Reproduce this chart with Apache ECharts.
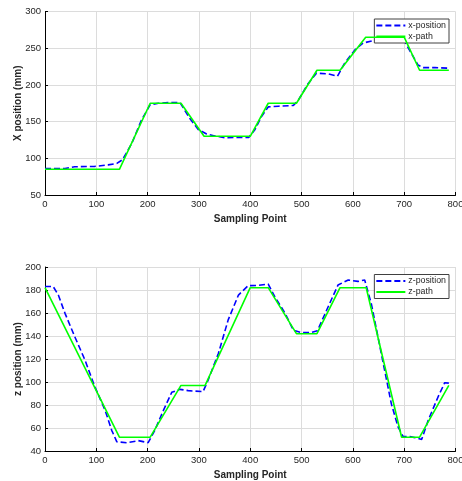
<!DOCTYPE html>
<html>
<head>
<meta charset="utf-8">
<script src="https://cdn.jsdelivr.net/npm/echarts@6/dist/echarts.min.js"></script>
<style>html,body{margin:0;padding:0;background:#fff;}#c{width:462px;height:481px;}</style>
</head>
<body>
<div id="c"></div>
<script>
// ---- data ----
var xTicks = [0, 100, 200, 300, 400, 500, 600, 700, 800];

var xPathS = [0, 145, 205, 265, 310, 400, 435, 490, 530, 575, 625, 700, 730, 787];
var xPathV = [85, 85, 175, 175, 130, 130, 175, 175, 220, 220, 265, 265, 220, 220];

var xPosS = [0, 39, 58, 97, 123, 140, 151, 169, 188, 205, 221, 240, 263, 282, 299, 315, 331, 351, 377, 397, 409, 422, 435, 455, 484, 494, 513, 529, 552, 570, 584, 604, 620, 640, 665, 690, 701, 714, 727, 737, 760, 787];
var xPosV = [86, 86, 88.5, 89, 91, 93, 98, 120, 152, 173, 175, 176, 176, 154.5, 139, 133, 130.5, 128, 128.5, 128.5, 139, 157, 170, 171, 172, 179.5, 202, 216, 215, 212, 229.5, 247.7, 257, 260.5, 262, 261, 259, 243, 227, 223.6, 223.6, 222.7];

var zPathS = [0, 145, 205, 265, 312, 400, 435, 490, 530, 575, 626, 695, 730, 787];
var zPathV = [182, 52, 52, 97, 97, 182, 182, 142, 142, 182, 182, 52, 52, 97];

var zPosS = [0, 16, 26, 39, 58, 78, 97, 117, 130, 140, 159, 182, 201, 214, 231, 247, 263, 279, 308, 318, 338, 357, 377, 396, 416, 435, 448, 468, 484, 500, 519, 531, 549, 571, 591, 610, 623, 636, 649, 662, 675, 688, 698, 711, 727, 734, 747, 766, 779, 787];
var zPosV = [183, 183, 175.6, 159.7, 139.4, 119, 96, 75.6, 58, 48, 47.2, 49, 47.2, 58, 75.6, 91, 93.6, 92.5, 91.6, 101.7, 125, 154, 175.6, 183.8, 184, 185.2, 174, 159.7, 145, 143, 143, 144.6, 162.6, 184.3, 188.7, 187.5, 188.7, 168, 139, 110, 81, 61, 52.5, 52.5, 51, 50, 67, 87, 99.4, 99];

function pairs(a, b) { var r = []; for (var i = 0; i < a.length; i++) r.push([a[i], b[i]]); return r; }

var FONT = '"Liberation Sans", Arial, sans-serif';
var TXT = '#262626';

function xAx(gi) {
  return {
    gridIndex: gi, type: 'value', min: 0, max: 800, interval: 100,
    name: 'Sampling Point', nameLocation: 'middle', nameGap: 19, nameMoveOverlap: false,
    nameTextStyle: { fontFamily: FONT, fontWeight: 'bold', fontSize: 10, color: TXT },
    axisLine: { onZero: false, lineStyle: { color: '#000', width: 1 } },
    axisTick: { inside: true, length: 3, lineStyle: { color: '#000' } },
    axisLabel: { fontFamily: FONT, fontSize: 9.5, color: TXT, margin: 4 },
    splitLine: { show: true, lineStyle: { color: '#dcdcdc', width: 1 } }
  };
}
function yAx(gi, name, min, max, itv) {
  return {
    gridIndex: gi, type: 'value', min: min, max: max, interval: itv,
    name: name, nameLocation: 'middle', nameGap: 22, nameRotate: 90, nameMoveOverlap: false,
    nameTextStyle: { fontFamily: FONT, fontWeight: 'bold', fontSize: 10, color: TXT },
    axisLine: { show: true, onZero: false, lineStyle: { color: '#000', width: 1 } },
    axisTick: { show: true, inside: true, length: 3, lineStyle: { color: '#000' } },
    axisLabel: { fontFamily: FONT, fontSize: 9.5, color: TXT, margin: 4 },
    splitLine: { show: true, lineStyle: { color: '#dcdcdc', width: 1 } }
  };
}
function legend(names, top) {
  return {
    data: names, orient: 'vertical', right: 13, top: top,
    backgroundColor: '#fff', borderColor: '#404040', borderWidth: 1,
    padding: [2, 3, 2, 1], itemGap: 2, itemWidth: 29, itemHeight: 9,
    itemStyle: { opacity: 0 },
    textStyle: { fontFamily: FONT, fontSize: 8.8, color: TXT, padding: [0, 0, 0, -2] }
  };
}

var chart = echarts.init(document.getElementById('c'), null, { renderer: 'canvas' });
chart.setOption({
  animation: false,
  backgroundColor: '#fff',
  grid: [
    { left: 45, right: 6.5, top: 11.5, height: 183.5, containLabel: false, outerBoundsMode: 'none' },
    { left: 45, right: 6.5, top: 267, height: 184, containLabel: false, outerBoundsMode: 'none' }
  ],
  xAxis: [xAx(0), xAx(1)],
  yAxis: [yAx(0, 'X position (mm)', 50, 300, 50), yAx(1, 'z position (mm)', 40, 200, 20)],
  legend: [legend(['x-position', 'x-path'], 19), legend(['z-position', 'z-path'], 274.5)],
  series: [
    { name: 'x-position', type: 'line', xAxisIndex: 0, yAxisIndex: 0, data: pairs(xPosS, xPosV), symbol: 'none', z: 3,
      lineStyle: { color: '#0000ff', width: 1.6, type: [6, 3] }, itemStyle: { color: '#0000ff' } },
    { name: 'x-path', type: 'line', xAxisIndex: 0, yAxisIndex: 0, data: pairs(xPathS, xPathV), symbol: 'none', z: 4,
      lineStyle: { color: '#00ff00', width: 1.6 }, itemStyle: { color: '#00ff00' } },
    { name: 'z-position', type: 'line', xAxisIndex: 1, yAxisIndex: 1, data: pairs(zPosS, zPosV), symbol: 'none', z: 3,
      lineStyle: { color: '#0000ff', width: 1.6, type: [6, 3] }, itemStyle: { color: '#0000ff' } },
    { name: 'z-path', type: 'line', xAxisIndex: 1, yAxisIndex: 1, data: pairs(zPathS, zPathV), symbol: 'none', z: 4,
      lineStyle: { color: '#00ff00', width: 1.6 }, itemStyle: { color: '#00ff00' } }
  ]
});
</script>
</body>
</html>
